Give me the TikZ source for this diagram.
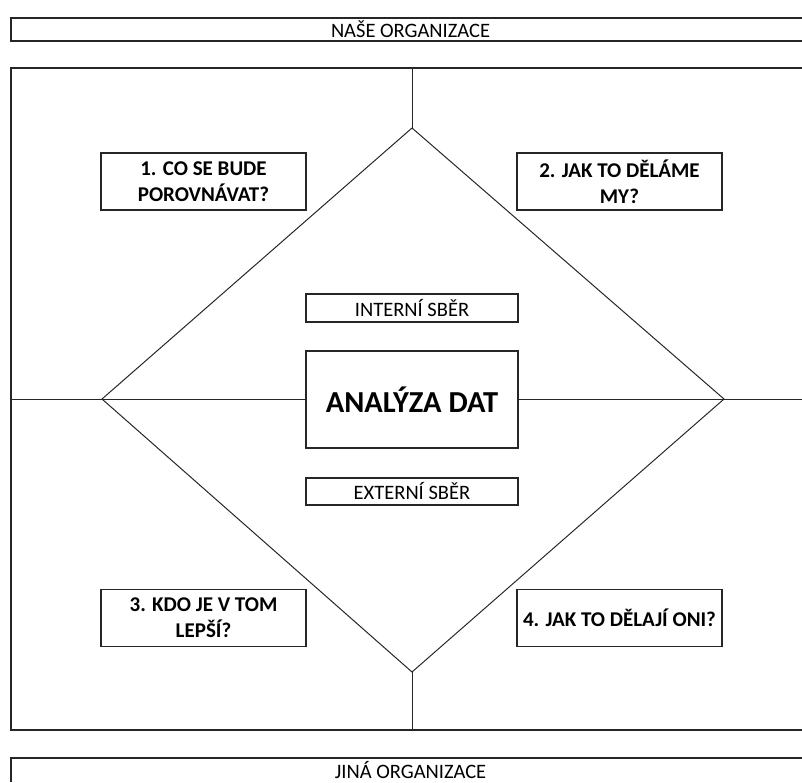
\documentclass[tikz,border=0pt]{standalone}
\usepackage{fontspec}
\setmainfont{Carlito}
\begin{document}
\begin{tikzpicture}[x=1pt,y=-1pt,
  ln/.style={draw=black!85, line width=1pt},
  bx/.style={draw=black!85, line width=1.2pt, fill=white, inner sep=0pt, align=center},
  barfont/.style={font=\fontsize{20.5}{24}\selectfont},
  bar/.style={bx, barfont, minimum width=799pt, minimum height=23pt},
  qbox/.style={bx, minimum width=205pt, minimum height=57pt, font=\fontsize{21}{26}\selectfont\bfseries},
  sbox/.style={bx, minimum width=212pt, font=\fontsize{20.5}{24}\selectfont}]
\useasboundingbox (0,0) rectangle (802,782);
\clip (0,0) rectangle (802,782);
\node[bar] (top) at (410.5,29.5) {NAŠE ORGANIZACE};
\coordinate (bl) at (11,782);
\coordinate (tl) at (11,758);
\coordinate (tr) at (810,758);
\draw[draw=black!85, line width=1.2pt] (bl) -- (tl) -- (tr);
\node[barfont, inner sep=0pt] (botlabel) at (410.5,769.5) {JINÁ ORGANIZACE};
\node[draw=black!85, line width=1.2pt, minimum width=799pt, minimum height=662pt, inner sep=0pt] (main) at (410.5,399) {};
\coordinate (dt) at (412,128);
\coordinate (dr) at (724,399);
\coordinate (db) at (412,672);
\coordinate (dl) at (102,399);
\draw[ln] (dt) -- (dr) -- (db) -- (dl) -- cycle;
\node[sbox, minimum height=97pt, font=\fontsize{30.5}{34}\selectfont\bfseries] (ana) at (412,399.5) {ANALÝZA DAT};
\node[sbox, minimum height=28pt] (int) at (412,308) {INTERNÍ SBĚR};
\node[sbox, minimum height=27pt] (ext) at (412,491.5) {EXTERNÍ SBĚR};
\draw[ln] (dt |- main.north) -- (dt);
\draw[ln] (db) -- (db |- main.south);
\draw[ln] (main.west |- ana.west) -- (ana.west);
\draw[ln] (ana.east) -- (main.east |- ana.east);
\node[qbox] (q1) at (203.5,181.5) {1. CO SE BUDE\\POROVNÁVAT?};
\node[qbox] (q2) at (619.5,181.5) {2. JAK TO DĚLÁME\\MY?};
\node[qbox] (q3) at (203.5,618) {3. KDO JE V TOM\\LEPŠÍ?};
\node[qbox] (q4) at (619.5,618) {4. JAK TO DĚLAJÍ ONI?};
\end{tikzpicture}
\end{document}
